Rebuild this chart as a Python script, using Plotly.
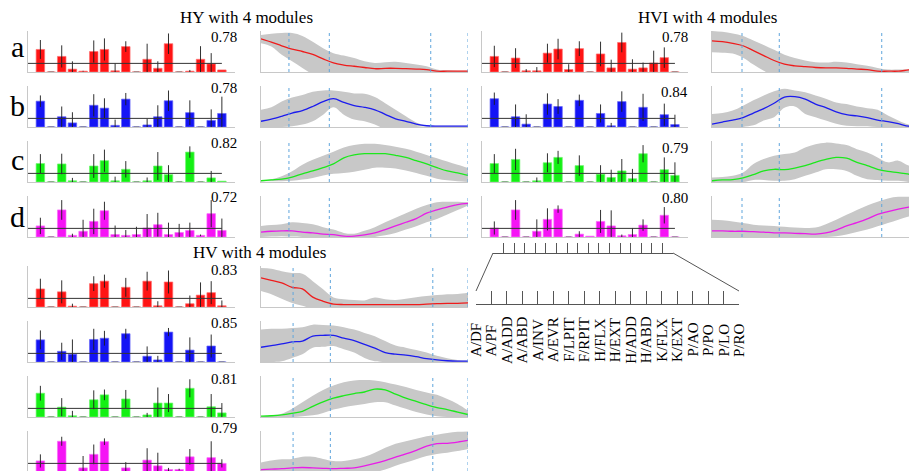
import plotly.graph_objects as go

W, H = 909, 471
FONT = "Times New Roman, Liberation Serif, serif"

# ---------------- data ----------------
muscles = ["A/DF", "A/PF", "A/ADD", "A/ABD", "A/INV", "A/EVR", "F/LPIT", "F/RPIT",
           "H/FLX", "H/EXT", "H/ADD", "H/ABD", "K/FLX", "K/EXT", "P/AO", "P/PO", "P/LO", "P/RO"]
bar_pos = list(range(1, 19))
gait = list(range(0, 101, 5))
threshold = 0.21

# module weights (bars) and their errors
hy_a_val = [0.55, 0, 0.38, 0.07, 0.02, 0.50, 0.55, 0.03, 0.62, 0, 0.31, 0.09, 0.69, 0, 0.02, 0.31, 0.20, 0.05]
hy_a_err = [0.23, 0, 0.27, 0.19, 0.01, 0.27, 0.27, 0.18, 0.13, 0, 0.38, 0.17, 0.25, 0, 0.03, 0.32, 0.26, 0.0]
hy_b_val = [0.63, 0, 0.25, 0.10, 0, 0.53, 0.46, 0.04, 0.68, 0, 0.05, 0.25, 0.64, 0, 0.35, 0, 0.16, 0.33]
hy_b_err = [0.14, 0, 0.25, 0.26, 0, 0.27, 0.24, 0.14, 0.15, 0, 0.15, 0.28, 0.25, 0, 0.30, 0, 0.27, 0.41]
hy_c_val = [0.45, 0, 0.44, 0.03, 0, 0.39, 0.52, 0.03, 0.31, 0, 0.03, 0.39, 0.18, 0, 0.73, 0, 0.10, 0.02]
hy_c_err = [0.23, 0, 0.25, 0.07, 0, 0.29, 0.27, 0.10, 0.20, 0, 0.08, 0.34, 0.23, 0, 0.14, 0, 0.17, 0.0]
hy_d_val = [0.27, 0, 0.66, 0.04, 0.14, 0.38, 0.64, 0.06, 0.04, 0.06, 0.22, 0.30, 0.06, 0.11, 0.16, 0.04, 0.57, 0.16]
hy_d_err = [0.20, 0, 0.24, 0.04, 0.28, 0.31, 0.22, 0.22, 0.13, 0.19, 0.34, 0.29, 0.29, 0.21, 0.19, 0.02, 0.33, 0.29]

hvi_a_val = [0.38, 0, 0.34, 0.03, 0.03, 0.46, 0.56, 0.06, 0.57, 0, 0.44, 0.10, 0.72, 0.07, 0.10, 0.22, 0.35, 0]
hvi_a_err = [0.26, 0, 0.24, 0.04, 0.09, 0.23, 0.25, 0.13, 0.18, 0, 0.30, 0.20, 0.24, 0.24, 0.13, 0.30, 0.25, 0]
hvi_b_val = [0.69, 0, 0.25, 0.07, 0, 0.56, 0.50, 0, 0.65, 0, 0.33, 0.03, 0.62, 0, 0.48, 0, 0.30, 0.06]
hvi_b_err = [0.15, 0, 0.30, 0.24, 0, 0.26, 0.18, 0, 0.14, 0, 0.22, 0.07, 0.25, 0, 0.33, 0, 0.27, 0.24]
hvi_c_val = [0.45, 0, 0.55, 0, 0.03, 0.47, 0.60, 0, 0.40, 0, 0.19, 0.11, 0.27, 0.08, 0.69, 0, 0.30, 0.16]
hvi_c_err = [0.23, 0, 0.26, 0, 0.08, 0.23, 0.16, 0, 0.25, 0, 0.22, 0.19, 0.29, 0.24, 0.21, 0, 0.30, 0.32]
hvi_d_val = [0.22, 0, 0.66, 0, 0.14, 0.43, 0.68, 0, 0.07, 0.02, 0.38, 0.27, 0.03, 0.06, 0.29, 0, 0.53, 0]
hvi_d_err = [0.16, 0, 0.24, 0, 0.29, 0.27, 0.09, 0, 0.07, 0.0, 0.28, 0.38, 0.03, 0.16, 0.14, 0, 0.20, 0]

hv_a_val = [0.44, 0, 0.37, 0.02, 0, 0.57, 0.63, 0, 0.48, 0, 0.63, 0.03, 0.61, 0, 0.08, 0.29, 0.35, 0.03]
hv_a_err = [0.25, 0, 0.28, 0.06, 0, 0.18, 0.16, 0, 0.23, 0, 0.23, 0.11, 0.28, 0, 0.20, 0.31, 0.28, 0.13]
hv_b_val = [0.54, 0, 0.26, 0.19, 0, 0.55, 0.58, 0, 0.69, 0, 0.14, 0.05, 0.73, 0, 0.29, 0, 0.39, 0]
hv_b_err = [0.23, 0, 0.21, 0.36, 0, 0.26, 0.18, 0, 0.12, 0, 0.24, 0.10, 0.10, 0, 0.31, 0, 0.28, 0]
hv_c_val = [0.58, 0, 0.24, 0.03, 0, 0.42, 0.54, 0, 0.44, 0, 0.05, 0.34, 0.34, 0, 0.70, 0, 0.25, 0.10]
hv_c_err = [0.18, 0, 0.22, 0.12, 0, 0.23, 0.13, 0, 0.22, 0, 0.05, 0.38, 0.22, 0, 0.22, 0, 0.31, 0.24]
hv_d_val = [0.27, 0, 0.75, 0, 0.10, 0.43, 0.74, 0, 0.10, 0, 0.29, 0.15, 0.06, 0.06, 0.37, 0, 0.35, 0.21]
hv_d_err = [0.16, 0, 0.11, 0, 0.29, 0.24, 0.08, 0, 0.14, 0, 0.29, 0.32, 0.04, 0.02, 0.19, 0, 0.40, 0.10]

hy_r = ["0.78", "0.78", "0.82", "0.72"]
hvi_r = ["0.78", "0.84", "0.79", "0.80"]
hv_r = ["0.83", "0.85", "0.81", "0.79"]

# activation patterns over the gait cycle (mean, upper, lower)
hy_a_mean = [0.81, 0.73, 0.64, 0.56, 0.50, 0.43, 0.32, 0.22, 0.17, 0.14, 0.11, 0.08, 0.09, 0.09, 0.08, 0.07, 0.06, 0.02, 0.02, 0.02, 0.02]
hy_a_hi = [0.90, 0.93, 0.95, 0.95, 0.88, 0.74, 0.58, 0.46, 0.40, 0.34, 0.26, 0.22, 0.24, 0.25, 0.22, 0.18, 0.14, 0.06, 0.04, 0.03, 0.03]
hy_a_lo = [0.70, 0.62, 0.42, 0.26, 0.10, -0.05, -0.10, -0.10, -0.10, -0.10, -0.10, -0.10, -0.10, -0.10, -0.10, -0.05, -0.05, 0.0, 0.0, 0.0, 0.0]
hy_b_mean = [0.14, 0.19, 0.26, 0.34, 0.40, 0.50, 0.62, 0.69, 0.60, 0.52, 0.48, 0.42, 0.31, 0.20, 0.14, 0.07, 0.03, 0.02, 0.02, 0.02, 0.02]
hy_b_hi = [0.42, 0.48, 0.62, 0.72, 0.78, 0.86, 0.89, 0.89, 0.86, 0.82, 0.81, 0.73, 0.58, 0.42, 0.26, 0.11, 0.04, 0.03, 0.03, 0.03, 0.03]
hy_b_lo = [-0.10, -0.05, 0.0, 0.02, 0.06, 0.14, 0.30, 0.48, 0.30, 0.18, 0.14, 0.06, -0.05, -0.10, -0.05, 0.0, 0.01, 0.01, 0.01, 0.01, 0.01]
hy_c_mean = [0.03, 0.05, 0.07, 0.12, 0.20, 0.27, 0.35, 0.44, 0.59, 0.66, 0.69, 0.69, 0.69, 0.65, 0.60, 0.52, 0.44, 0.35, 0.27, 0.22, 0.16]
hy_c_hi = [0.04, 0.07, 0.14, 0.26, 0.42, 0.54, 0.64, 0.74, 0.84, 0.90, 0.93, 0.93, 0.90, 0.86, 0.81, 0.74, 0.66, 0.58, 0.50, 0.42, 0.34]
hy_c_lo = [0.02, 0.02, 0.02, 0.03, 0.06, 0.10, 0.16, 0.20, 0.22, 0.25, 0.30, 0.35, 0.35, 0.33, 0.28, 0.22, 0.15, 0.08, 0.04, 0.02, 0.0]
hy_d_mean = [0.12, 0.14, 0.15, 0.15, 0.12, 0.10, 0.07, 0.06, 0.02, 0.02, 0.05, 0.10, 0.18, 0.27, 0.36, 0.45, 0.58, 0.66, 0.73, 0.79, 0.82]
hy_d_hi = [0.27, 0.29, 0.31, 0.36, 0.34, 0.31, 0.24, 0.18, 0.10, 0.08, 0.15, 0.24, 0.36, 0.47, 0.58, 0.69, 0.78, 0.85, 0.86, 0.86, 0.85]
hy_d_lo = [0.0, 0.01, 0.02, 0.01, 0.0, -0.05, -0.05, -0.05, -0.05, -0.05, -0.05, 0.0, 0.04, 0.10, 0.18, 0.26, 0.36, 0.44, 0.55, 0.66, 0.77]

hvi_a_mean = [0.76, 0.74, 0.70, 0.64, 0.52, 0.40, 0.28, 0.19, 0.15, 0.13, 0.11, 0.10, 0.10, 0.09, 0.07, 0.06, 0.02, 0.02, 0.02, 0.05, 0.07]
hvi_a_hi = [1.0, 0.98, 0.94, 0.88, 0.77, 0.66, 0.54, 0.42, 0.34, 0.28, 0.24, 0.23, 0.25, 0.23, 0.19, 0.15, 0.10, 0.06, 0.06, 0.06, 0.08]
hvi_a_lo = [0.48, 0.47, 0.45, 0.35, 0.18, 0.03, -0.10, -0.10, -0.10, -0.10, -0.10, -0.10, -0.10, -0.10, -0.10, -0.05, -0.05, 0.0, 0.0, 0.0, 0.0]
hvi_b_mean = [0.07, 0.12, 0.17, 0.23, 0.34, 0.45, 0.58, 0.73, 0.74, 0.68, 0.56, 0.47, 0.37, 0.30, 0.27, 0.23, 0.17, 0.13, 0.08, 0.02, 0.0]
hvi_b_hi = [0.32, 0.34, 0.40, 0.52, 0.65, 0.77, 0.87, 0.93, 0.89, 0.85, 0.77, 0.69, 0.60, 0.56, 0.50, 0.46, 0.42, 0.28, 0.16, 0.06, 0.02]
hvi_b_lo = [-0.05, -0.05, -0.05, 0.0, 0.04, 0.16, 0.24, 0.47, 0.50, 0.32, 0.24, 0.16, 0.08, 0.03, 0.02, 0.02, 0.0, 0.0, 0.0, 0.0, 0.0]
hvi_c_mean = [0.03, 0.05, 0.06, 0.10, 0.18, 0.27, 0.31, 0.30, 0.34, 0.40, 0.48, 0.55, 0.60, 0.58, 0.48, 0.40, 0.31, 0.26, 0.23, 0.19, 0.15]
hvi_c_hi = [0.11, 0.12, 0.15, 0.23, 0.44, 0.56, 0.64, 0.68, 0.72, 0.84, 0.92, 0.96, 0.94, 0.90, 0.80, 0.72, 0.60, 0.48, 0.52, 0.40, 0.32]
hvi_c_lo = [0.0, 0.0, 0.0, 0.0, 0.05, 0.05, 0.03, 0.03, 0.07, 0.15, 0.23, 0.31, 0.31, 0.27, 0.15, 0.07, 0.05, 0.03, 0.03, 0.0, 0.0]
hvi_d_mean = [0.15, 0.15, 0.14, 0.14, 0.13, 0.12, 0.10, 0.10, 0.09, 0.08, 0.07, 0.10, 0.17, 0.27, 0.35, 0.44, 0.55, 0.62, 0.68, 0.73, 0.77]
hvi_d_hi = [0.42, 0.41, 0.38, 0.34, 0.30, 0.28, 0.27, 0.25, 0.23, 0.22, 0.23, 0.31, 0.42, 0.54, 0.66, 0.77, 0.86, 0.94, 0.98, 0.98, 0.98]
hvi_d_lo = [0.0, 0.0, 0.0, 0.0, 0.0, 0.0, 0.0, 0.0, 0.0, 0.0, 0.0, 0.0, 0.02, 0.06, 0.12, 0.18, 0.26, 0.34, 0.42, 0.50, 0.54]

hv_a_mean = [0.71, 0.65, 0.59, 0.48, 0.44, 0.24, 0.14, 0.07, 0.06, 0.06, 0.06, 0.06, 0.06, 0.06, 0.06, 0.06, 0.07, 0.08, 0.09, 0.09, 0.10]
hv_a_hi = [0.95, 0.93, 0.87, 0.83, 0.81, 0.63, 0.43, 0.23, 0.19, 0.17, 0.16, 0.23, 0.19, 0.17, 0.20, 0.24, 0.27, 0.29, 0.31, 0.32, 0.35]
hv_a_lo = [0.39, 0.31, 0.20, 0.10, 0.03, -0.05, -0.10, -0.10, -0.10, -0.10, -0.10, -0.10, -0.10, -0.10, -0.10, -0.10, -0.10, -0.10, -0.10, -0.10, -0.10]
hv_b_mean = [0.36, 0.40, 0.44, 0.49, 0.51, 0.63, 0.65, 0.65, 0.58, 0.52, 0.43, 0.34, 0.23, 0.19, 0.17, 0.13, 0.08, 0.05, 0.03, 0.02, 0.02]
hv_b_hi = [0.79, 0.81, 0.81, 0.83, 0.85, 0.91, 0.90, 0.89, 0.85, 0.79, 0.71, 0.63, 0.51, 0.40, 0.35, 0.29, 0.23, 0.15, 0.09, 0.05, 0.03]
hv_b_lo = [0.0, 0.0, 0.02, 0.10, 0.19, 0.35, 0.37, 0.39, 0.31, 0.23, 0.10, 0.02, 0.0, 0.0, 0.0, 0.0, 0.0, 0.0, 0.0, 0.0, 0.0]
hv_c_mean = [0.02, 0.03, 0.05, 0.09, 0.14, 0.26, 0.37, 0.46, 0.52, 0.57, 0.61, 0.68, 0.66, 0.56, 0.46, 0.38, 0.30, 0.23, 0.18, 0.12, 0.06]
hv_c_hi = [0.02, 0.04, 0.08, 0.20, 0.36, 0.52, 0.66, 0.77, 0.85, 0.89, 0.90, 0.89, 0.85, 0.79, 0.73, 0.66, 0.60, 0.54, 0.44, 0.32, 0.16]
hv_c_lo = [0.0, 0.0, 0.0, 0.0, 0.02, 0.04, 0.10, 0.18, 0.24, 0.28, 0.32, 0.36, 0.36, 0.28, 0.20, 0.12, 0.06, 0.02, 0.0, 0.0, 0.0]
hv_d_mean = [0.06, 0.07, 0.08, 0.10, 0.11, 0.10, 0.09, 0.08, 0.09, 0.10, 0.15, 0.21, 0.28, 0.36, 0.44, 0.53, 0.63, 0.69, 0.70, 0.73, 0.77]
hv_d_hi = [0.23, 0.28, 0.31, 0.32, 0.37, 0.37, 0.32, 0.27, 0.27, 0.31, 0.37, 0.47, 0.59, 0.69, 0.75, 0.81, 0.87, 0.91, 0.95, 0.98, 0.99]
hv_d_lo = [0.0, 0.0, 0.0, 0.0, 0.0, 0.0, 0.0, 0.0, 0.0, 0.0, 0.0, 0.0, 0.06, 0.15, 0.23, 0.31, 0.39, 0.44, 0.47, 0.51, 0.56]

hy_events = [13.5, 33, 82, 100]
hvi_events = [14.5, 32.5, 82, 100]
hv_events = [15.5, 33.5, 83, 100]

# ---------------- styling / layout ----------------
bar_colors = ["#ff1414", "#1414f5", "#14f014", "#f514f5"]
bar_edges = ["#ff7070", "#6a6af8", "#70f570", "#f870f8"]
line_colors = ["#ee1c1c", "#1c1cee", "#1ce81c", "#e81ce8"]
band_color = "rgb(200,200,200)"
event_color = "rgb(95,165,220)"
axis_color = "#c8c8c8"

ROW_TOPS = [31, 86, 141, 196]
HV_TOPS = [266, 321, 376, 431]
PANEL_H = 41
BAR_RANGE = [-0.16, 19.23]

fig = go.Figure()
layout = dict(width=W, height=H, margin=dict(l=0, r=0, t=0, b=0),
              paper_bgcolor="white", plot_bgcolor="white", showlegend=False)
shapes, annotations = [], []
counter = [0]


def px2paper_x(px):
    return px / W


def px2paper_y(py):
    return 1 - py / H


def add_axes(pl, pr, pt, pb, xr, yr):
    vl, vr = max(pl, 0), min(pr, W)
    vt, vb = max(pt, 0), min(pb, H)
    sx = (xr[1] - xr[0]) / (pr - pl)
    xr_v = [xr[0] + (vl - pl) * sx, xr[0] + (vr - pl) * sx]
    sy = (yr[1] - yr[0]) / (pb - pt)
    yr_v = [yr[0] + (pb - vb) * sy, yr[1] - (vt - pt) * sy]
    counter[0] += 1
    n = counter[0]
    sfx = "" if n == 1 else str(n)
    layout["xaxis" + sfx] = dict(domain=[vl / W, vr / W], range=xr_v, anchor="y" + sfx,
                                 showline=(vb == pb), linecolor=axis_color, linewidth=1,
                                 showgrid=False, zeroline=False, showticklabels=False,
                                 ticks="", fixedrange=True)
    layout["yaxis" + sfx] = dict(domain=[1 - vb / H, 1 - vt / H], range=yr_v, anchor="x" + sfx,
                                 showline=True, linecolor=axis_color, linewidth=1,
                                 showgrid=False, zeroline=False, showticklabels=False,
                                 ticks="", fixedrange=True)
    return "x" + sfx, "y" + sfx, xr_v


def bar_panel(pl, pr, top, vals, errs, k, rtext, r_right, r_y):
    xa, ya, _ = add_axes(pl, pr, top, top + PANEL_H, BAR_RANGE, [0, 1])
    fig.add_trace(go.Bar(x=bar_pos, y=vals, width=0.8, xaxis=xa, yaxis=ya,
                         marker=dict(color=bar_colors[k], line=dict(color=bar_edges[k], width=0.7)),
                         error_y=dict(type="data", array=errs, visible=True, color="#1a1a1a",
                                      thickness=0.9, width=0)))
    zx = [p for p, v in zip(bar_pos, vals) if v == 0]
    fig.add_trace(go.Scatter(x=zx, y=[0] * len(zx), mode="markers", xaxis=xa, yaxis=ya,
                             cliponaxis=False,
                             marker=dict(symbol="line-ew", size=4, line=dict(color="#666", width=1))))
    fig.add_trace(go.Scatter(x=[BAR_RANGE[0], bar_pos[-1]], y=[threshold, threshold], mode="lines",
                             xaxis=xa, yaxis=ya, line=dict(color="#333333", width=1)))
    annotations.append(dict(text=rtext, x=px2paper_x(r_right), y=px2paper_y(r_y), xref="paper",
                            yref="paper", xanchor="right", yanchor="middle", showarrow=False,
                            font=dict(family=FONT, size=15, color="black")))


def curve_panel(pl, pr, top, mean, hi, lo, k, events):
    xa, ya, xr_v = add_axes(pl, pr, top, top + PANEL_H, [0, 100], [0, 1])
    fig.add_trace(go.Scatter(x=gait, y=lo, mode="lines", xaxis=xa, yaxis=ya,
                             line=dict(width=0, shape="spline", color=band_color)))
    fig.add_trace(go.Scatter(x=gait, y=hi, mode="lines", xaxis=xa, yaxis=ya, fill="tonexty",
                             fillcolor=band_color, line=dict(width=0, shape="spline", color=band_color)))
    fig.add_trace(go.Scatter(x=gait, y=mean, mode="lines", xaxis=xa, yaxis=ya,
                             line=dict(width=1.3, shape="spline", color=line_colors[k])))
    for e in events:
        if e <= xr_v[1] + 1e-9:
            shapes.append(dict(type="line", xref=xa, yref=ya + " domain", x0=e, x1=e, y0=0, y1=1,
                               line=dict(color=event_color, width=1, dash="dot"), layer="above"))


groups = [
    dict(bx=(28, 235), cx=(261, 468), tops=ROW_TOPS, r_right=239,
         r_y=[37, 88, 143, 197], r=hy_r, events=hy_events,
         vals=[hy_a_val, hy_b_val, hy_c_val, hy_d_val], errs=[hy_a_err, hy_b_err, hy_c_err, hy_d_err],
         mean=[hy_a_mean, hy_b_mean, hy_c_mean, hy_d_mean], hi=[hy_a_hi, hy_b_hi, hy_c_hi, hy_d_hi],
         lo=[hy_a_lo, hy_b_lo, hy_c_lo, hy_d_lo]),
    dict(bx=(482, 688), cx=(712, 919), tops=ROW_TOPS, r_right=690,
         r_y=[37, 92, 148, 198], r=hvi_r, events=hvi_events,
         vals=[hvi_a_val, hvi_b_val, hvi_c_val, hvi_d_val], errs=[hvi_a_err, hvi_b_err, hvi_c_err, hvi_d_err],
         mean=[hvi_a_mean, hvi_b_mean, hvi_c_mean, hvi_d_mean], hi=[hvi_a_hi, hvi_b_hi, hvi_c_hi, hvi_d_hi],
         lo=[hvi_a_lo, hvi_b_lo, hvi_c_lo, hvi_d_lo]),
    dict(bx=(28, 235), cx=(261, 468), tops=HV_TOPS, r_right=239,
         r_y=[270, 323, 379, 428], r=hv_r, events=hv_events,
         vals=[hv_a_val, hv_b_val, hv_c_val, hv_d_val], errs=[hv_a_err, hv_b_err, hv_c_err, hv_d_err],
         mean=[hv_a_mean, hv_b_mean, hv_c_mean, hv_d_mean], hi=[hv_a_hi, hv_b_hi, hv_c_hi, hv_d_hi],
         lo=[hv_a_lo, hv_b_lo, hv_c_lo, hv_d_lo]),
]

for g in groups:
    for k in range(4):
        bar_panel(g["bx"][0], g["bx"][1], g["tops"][k], g["vals"][k], g["errs"][k], k,
                  g["r"][k], g["r_right"], g["r_y"][k])
        curve_panel(g["cx"][0], g["cx"][1], g["tops"][k], g["mean"][k], g["hi"][k], g["lo"][k],
                    k, g["events"])

# ---- zoomed muscle axis (connector) ----
LINE_DARK = "#555555"
xa_up, ya_up, _ = add_axes(493, 673, 243, 253, [1, 18], [0, 1])
layout["xaxis" + xa_up[1:]].update(showline=True, linecolor=LINE_DARK, ticks="inside", ticklen=10,
                                   tickwidth=1, tickcolor=LINE_DARK, tickvals=bar_pos,
                                   showticklabels=False)
layout["yaxis" + ya_up[1:]].update(visible=False, showline=False)
fig.add_trace(go.Scatter(x=bar_pos, y=[0.5] * len(bar_pos), mode="none", xaxis=xa_up, yaxis=ya_up,
                         hoverinfo="skip"))

xa_lab, ya_lab, _ = add_axes(476, 739, 291, 304, [1, 18], [0, 1])
layout["xaxis" + xa_lab[1:]].update(showline=True, linecolor=LINE_DARK, ticks="inside", ticklen=13,
                                    tickwidth=1, tickcolor=LINE_DARK, tickvals=bar_pos,
                                    showticklabels=False)
layout["yaxis" + ya_lab[1:]].update(visible=False, showline=False)
fig.add_trace(go.Scatter(x=bar_pos, y=[0.5] * len(bar_pos), mode="none", xaxis=xa_lab, yaxis=ya_lab,
                         hoverinfo="skip"))

shapes.append(dict(type="line", xref="paper", yref="paper", x0=px2paper_x(493), y0=px2paper_y(253),
                   x1=px2paper_x(476), y1=px2paper_y(291), line=dict(color=LINE_DARK, width=1)))
shapes.append(dict(type="line", xref="paper", yref="paper", x0=px2paper_x(673), y0=px2paper_y(253),
                   x1=px2paper_x(739), y1=px2paper_y(291), line=dict(color=LINE_DARK, width=1)))

for p, m in zip(bar_pos, muscles):
    annotations.append(dict(text=m, x=p, y=px2paper_y(340), xref=xa_lab, yref="paper",
                            textangle=-90, xanchor="center", yanchor="middle", showarrow=False,
                            font=dict(family=FONT, size=15, color="black")))

# ---- titles and row letters ----
titles = [("HY with 4 modules", 247, 18), ("HVI with 4 modules", 707, 18), ("HV with 4 modules", 259, 252)]
for t, x, y in titles:
    annotations.append(dict(text=t, x=px2paper_x(x), y=px2paper_y(y), xref="paper", yref="paper",
                            xanchor="center", yanchor="middle", showarrow=False,
                            font=dict(family=FONT, size=17, color="black")))

row_letters = ["a", "b", "c", "d"]
letter_y = [47, 106, 160, 216]
for t, y in zip(row_letters, letter_y):
    annotations.append(dict(text=t, x=px2paper_x(17), y=px2paper_y(y), xref="paper", yref="paper",
                            xanchor="center", yanchor="middle", showarrow=False,
                            font=dict(family=FONT, size=30, color="black")))

layout["shapes"] = shapes
layout["annotations"] = annotations
fig.update_layout(**layout)
fig.write_html("out.html")
